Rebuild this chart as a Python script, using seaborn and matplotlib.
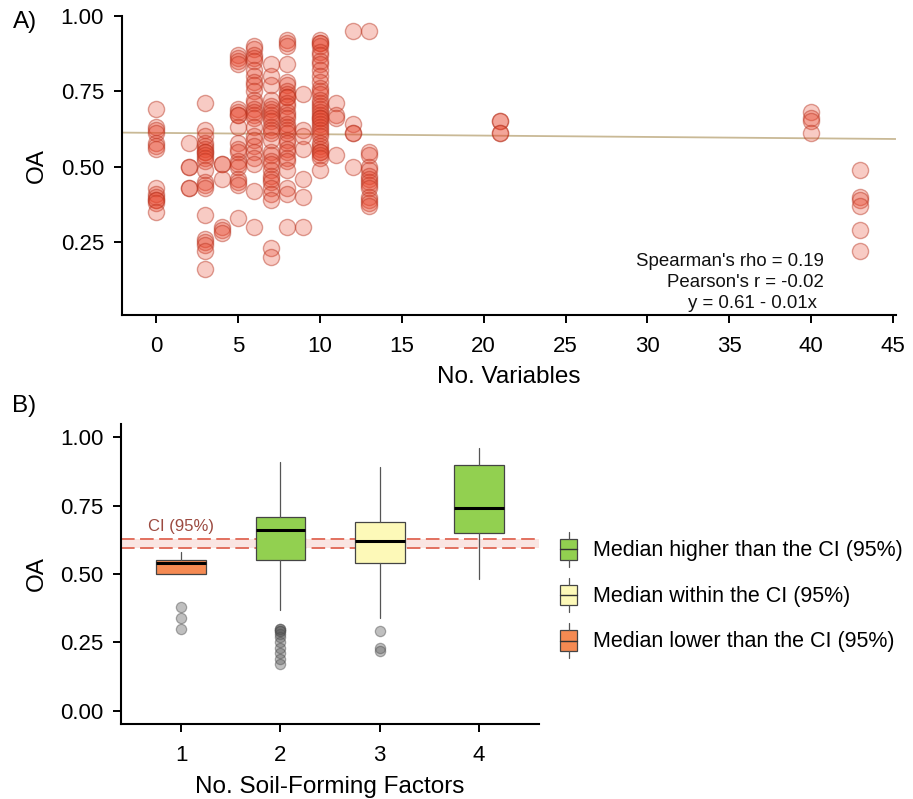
import matplotlib
matplotlib.use("Agg")
import matplotlib.pyplot as plt
import seaborn as sns
import numpy as np
import pandas as pd
from matplotlib.patches import Patch, Rectangle
from matplotlib.lines import Line2D
from matplotlib.legend_handler import HandlerBase

# ---------------- Panel A data: OA by number of variables ----------------
oa_0 = [0.69, 0.63, 0.62, 0.61, 0.58, 0.57, 0.56, 0.43, 0.41, 0.40, 0.39, 0.39, 0.38, 0.35]
oa_2 = [0.58, 0.50, 0.50, 0.43, 0.43]
oa_3 = [0.71, 0.62, 0.60, 0.58, 0.57, 0.56, 0.55, 0.55, 0.54, 0.53, 0.52, 0.49, 0.45, 0.44,
        0.43, 0.34, 0.26, 0.25, 0.24, 0.22, 0.16]
oa_4 = [0.51, 0.51, 0.46, 0.30, 0.29, 0.28]
oa_5 = [0.87, 0.86, 0.85, 0.84, 0.69, 0.68, 0.67, 0.67, 0.63, 0.58, 0.56, 0.55, 0.52, 0.51,
        0.50, 0.46, 0.45, 0.44, 0.33]
oa_6 = [0.90, 0.89, 0.87, 0.86, 0.85, 0.82, 0.80, 0.78, 0.77, 0.75, 0.72, 0.71, 0.69, 0.68,
        0.67, 0.66, 0.63, 0.60, 0.59, 0.57, 0.55, 0.53, 0.51, 0.42, 0.30]
oa_7 = [0.84, 0.80, 0.77, 0.72, 0.70, 0.69, 0.68, 0.67, 0.66, 0.65, 0.63, 0.62, 0.61, 0.59,
        0.55, 0.54, 0.52, 0.51, 0.49, 0.47, 0.46, 0.45, 0.43, 0.41, 0.39, 0.23, 0.20]
oa_8 = [0.92, 0.91, 0.90, 0.84, 0.78, 0.77, 0.75, 0.74, 0.73, 0.73, 0.71, 0.70, 0.68, 0.67,
        0.66, 0.64, 0.63, 0.62, 0.61, 0.59, 0.58, 0.56, 0.55, 0.53, 0.52, 0.49, 0.43, 0.41, 0.30]
oa_9 = [0.74, 0.62, 0.60, 0.56, 0.46, 0.40, 0.30]
oa_10 = [0.92, 0.91, 0.91, 0.90, 0.88, 0.87, 0.85, 0.84, 0.82, 0.80, 0.78, 0.76, 0.75, 0.74,
         0.72, 0.71, 0.70, 0.69, 0.68, 0.67, 0.66, 0.66, 0.65, 0.64, 0.63, 0.62, 0.61, 0.60,
         0.58, 0.57, 0.56, 0.55, 0.55, 0.54, 0.53, 0.49]
oa_11 = [0.71, 0.67, 0.66, 0.54]
oa_12 = [0.95, 0.64, 0.61, 0.61, 0.50]
oa_13 = [0.95, 0.55, 0.54, 0.50, 0.49, 0.47, 0.46, 0.45, 0.44, 0.43, 0.40, 0.39, 0.38, 0.37]
oa_21 = [0.65, 0.65, 0.61, 0.61]
oa_40 = [0.68, 0.66, 0.65, 0.61]
oa_43 = [0.49, 0.40, 0.39, 0.37, 0.29, 0.22]

n_vars_groups = {0: oa_0, 2: oa_2, 3: oa_3, 4: oa_4, 5: oa_5, 6: oa_6, 7: oa_7, 8: oa_8,
                 9: oa_9, 10: oa_10, 11: oa_11, 12: oa_12, 13: oa_13, 21: oa_21,
                 40: oa_40, 43: oa_43}

fit_intercept = 0.612
fit_slope = -0.00045
stats_lines = ["Spearman's rho = 0.19", "Pearson's r = -0.02", "y = 0.61 - 0.01x"]

# ---------------- Panel B data: box plot summaries ----------------
sff_categories = ["1", "2", "3", "4"]
box_q1 = [0.50, 0.55, 0.54, 0.65]
box_med = [0.54, 0.66, 0.62, 0.74]
box_q3 = [0.55, 0.71, 0.69, 0.90]
box_whislo = [0.50, 0.37, 0.34, 0.48]
box_whishi = [0.58, 0.91, 0.89, 0.96]
box_fliers = [[0.38, 0.34, 0.30],
              [0.30, 0.30, 0.29, 0.29, 0.28, 0.27, 0.25, 0.23, 0.21, 0.19, 0.17],
              [0.29, 0.23, 0.22],
              []]
box_class = ["lower", "higher", "within", "higher"]
ci_low, ci_high = 0.596, 0.628

class_colors = {"higher": "#92d050", "within": "#fdf9b8", "lower": "#f58a52"}
class_labels = {"higher": "Median higher than the CI (95%)",
                "within": "Median within the CI (95%)",
                "lower": "Median lower than the CI (95%)"}

# ---------------- Style ----------------
sns.set_theme(style="ticks")
plt.rcParams["font.family"] = ["Liberation Sans", "DejaVu Sans"]
plt.rcParams["axes.linewidth"] = 1.5
plt.rcParams["xtick.major.width"] = 1.4
plt.rcParams["ytick.major.width"] = 1.4
plt.rcParams["xtick.major.size"] = 5.8
plt.rcParams["ytick.major.size"] = 5.8
plt.rcParams["xtick.color"] = "black"
plt.rcParams["ytick.color"] = "black"
plt.rcParams["xtick.labelcolor"] = "black"
plt.rcParams["ytick.labelcolor"] = "black"
plt.rcParams["axes.edgecolor"] = "black"
plt.rcParams["axes.labelcolor"] = "black"
plt.rcParams["text.color"] = "black"

fig = plt.figure(figsize=(9.13, 7.99), dpi=100)

# ---------------- Panel A ----------------
axA = fig.add_axes([0.1333, 0.6058, 0.8477, 0.3742])
rows = [(k, v) for k, vals in n_vars_groups.items() for v in vals]
dfA = pd.DataFrame(rows, columns=["n_vars", "oa"])
sns.scatterplot(data=dfA, x="n_vars", y="oa", ax=axA, s=135,
                color=(0.91, 0.27, 0.17, 0.28), edgecolor=(0.72, 0.20, 0.12, 0.45),
                linewidth=1.0, zorder=3)
xlimA = (-2.1, 45.16)
xs = np.array(xlimA)
axA.plot(xs, fit_intercept + fit_slope * xs, color="#c9b996", lw=1.3, zorder=2)
axA.set_xlim(*xlimA)
axA.set_ylim(0.0076, 1.0)
axA.set_xticks(np.arange(0, 46, 5))
axA.set_yticks([0.25, 0.50, 0.75, 1.00])
axA.set_yticklabels(["0.25", "0.50", "0.75", "1.00"])
axA.tick_params(axis="x", labelsize=16, pad=9)
axA.tick_params(axis="y", labelsize=16, pad=7)
axA.set_xlabel("No. Variables", fontsize=17.5, labelpad=7)
axA.set_ylabel("OA", fontsize=17.5, labelpad=9)
sns.despine(ax=axA)
for i, (line, xr) in enumerate(zip(stats_lines, [40.79, 40.79, 40.36])):
    axA.text(xr, 0.1835 - i * 0.0697, line, ha="right", va="center",
             fontsize=13.4, color="#111111")

# ---------------- Panel B ----------------
axB = fig.add_axes([0.133, 0.0934, 0.457, 0.3764])
axB.axhspan(ci_low, ci_high, color="#ec8a7c", alpha=0.22, lw=0, zorder=1)
for yv in (ci_low, ci_high):
    axB.axhline(yv, color="#e2705f", lw=1.4, ls=(0, (7, 2.8)), zorder=1.5)

stats = []
for i in range(len(sff_categories)):
    stats.append(dict(med=box_med[i], q1=box_q1[i], q3=box_q3[i],
                      whislo=box_whislo[i], whishi=box_whishi[i],
                      fliers=box_fliers[i], label=sff_categories[i]))
positions = np.arange(len(sff_categories))
bp = axB.bxp(stats, positions=positions, widths=0.5, patch_artist=True,
             showcaps=False, zorder=3,
             boxprops=dict(edgecolor="#444444", linewidth=0.9),
             medianprops=dict(color="black", linewidth=2.2),
             whiskerprops=dict(color="#555555", linewidth=0.9),
             flierprops=dict(marker="o", markersize=7.4,
                             markerfacecolor=(0.35, 0.35, 0.35, 0.38),
                             markeredgecolor=(0.3, 0.3, 0.3, 0.45),
                             markeredgewidth=0.9, linestyle="none"))
for patch, cls in zip(bp["boxes"], box_class):
    patch.set_facecolor(class_colors[cls])

axB.text(0, 0.673, "CI (95%)", ha="center", va="center", fontsize=12, color="#9c4a40")
axB.set_xlim(-0.6, 3.6)
axB.set_ylim(-0.05, 1.05)
axB.set_xticks(positions)
axB.set_xticklabels(sff_categories)
axB.set_yticks([0.0, 0.25, 0.5, 0.75, 1.0])
axB.set_yticklabels(["0.00", "0.25", "0.50", "0.75", "1.00"])
axB.tick_params(axis="x", labelsize=16, pad=9)
axB.tick_params(axis="y", labelsize=16, pad=7)
axB.set_xlabel("No. Soil-Forming Factors", fontsize=17.5, labelpad=7)
axB.set_ylabel("OA", fontsize=17.5, labelpad=9)
sns.despine(ax=axB)


class BoxHandler(HandlerBase):
    def create_artists(self, legend, orig_handle, xdescent, ydescent, width, height,
                       fontsize, trans):
        fc = orig_handle.get_facecolor()
        bh = height * 0.6
        x0 = -xdescent
        y0 = -ydescent + (height - bh) / 2
        rect = Rectangle((x0, y0), width, bh, facecolor=fc, edgecolor="#444444",
                         lw=0.9, transform=trans)
        med = Line2D([x0, x0 + width], [y0 + bh / 2] * 2, color="#333333", lw=1.0,
                     transform=trans)
        w1 = Line2D([x0 + width / 2] * 2, [-ydescent, y0], color="#555555", lw=0.9,
                    transform=trans)
        w2 = Line2D([x0 + width / 2] * 2, [y0 + bh, -ydescent + height], color="#555555",
                    lw=0.9, transform=trans)
        return [rect, med, w1, w2]


legend_order = ["higher", "within", "lower"]
handles = [Patch(facecolor=class_colors[c], label=class_labels[c]) for c in legend_order]
fig.legend(handles=handles, handler_map={Patch: BoxHandler()},
           loc="center left", bbox_to_anchor=(560 / 913, 1 - 595 / 799),
           frameon=False, fontsize=15.5, handlelength=0.8, handleheight=2.12,
           handletextpad=0.72, labelspacing=0.5, borderpad=0, borderaxespad=0)

fig.text(13 / 913, 1 - 11 / 799, "A)", fontsize=17.5, ha="left", va="top")
fig.text(12 / 913, 1 - 395 / 799, "B)", fontsize=17.5, ha="left", va="top")

fig.savefig("out.png", dpi=100)
